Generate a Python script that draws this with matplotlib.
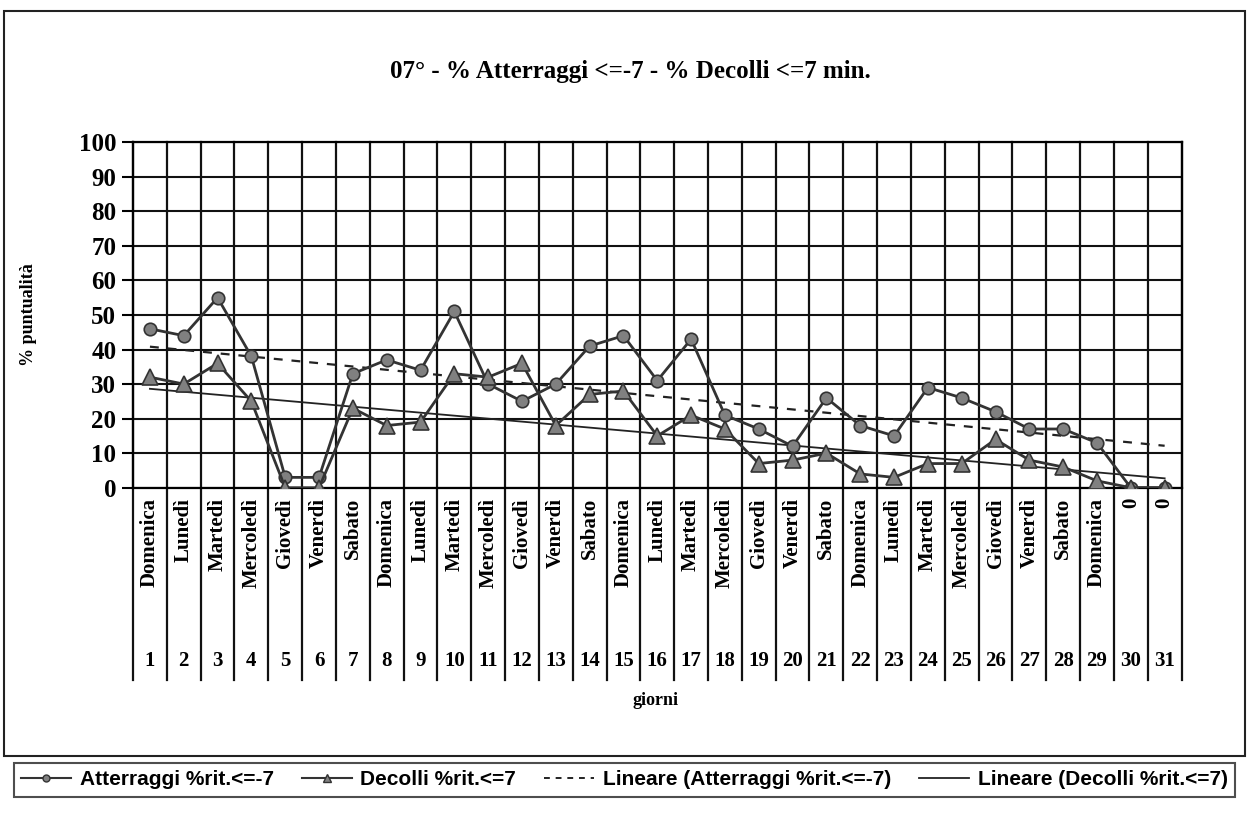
import numpy as np
import matplotlib
matplotlib.use("Agg")
import matplotlib.pyplot as plt
from matplotlib.patches import Rectangle
from matplotlib.lines import Line2D

# dati (giorni del mese)
giorni = list(range(1, 32))
nomi = ["Domenica", "Lunedì", "Martedì", "Mercoledì", "Giovedì", "Venerdì", "Sabato",
        "Domenica", "Lunedì", "Martedì", "Mercoledì", "Giovedì", "Venerdì", "Sabato",
        "Domenica", "Lunedì", "Martedì", "Mercoledì", "Giovedì", "Venerdì", "Sabato",
        "Domenica", "Lunedì", "Martedì", "Mercoledì", "Giovedì", "Venerdì", "Sabato",
        "Domenica", "0", "0"]
atterraggi = [46, 44, 55, 38, 3, 3, 33, 37, 34, 51, 30, 25, 30, 41, 44, 31,
              43, 21, 17, 12, 26, 18, 15, 29, 26, 22, 17, 17, 13, 0, 0]
decolli = [32, 30, 36, 25, 0, 0, 23, 18, 19, 33, 32, 36, 18, 27, 28, 15,
           21, 17, 7, 8, 10, 4, 3, 7, 7, 14, 8, 6, 2, 0, 0]
y_ticks = list(range(0, 101, 10))

plt.rcParams['font.family'] = ['Liberation Serif', 'DejaVu Serif']
plt.rcParams['font.weight'] = 'bold'

fig = plt.figure(figsize=(12.49, 8.17), dpi=100)
ax = fig.add_axes([0.1065, 0.403, 0.8395, 0.423])

x = np.array(giorni)
ax.plot(x, atterraggi, color='#333333', lw=2, marker='o', ms=9,
        mfc='#808080', mec='#333333', mew=1.2, zorder=4)
ax.plot(x, decolli, color='#333333', lw=2, marker='^', ms=11,
        mfc='#808080', mec='#333333', mew=1.2, zorder=4)

# linee di tendenza lineari
pa = np.polyfit(x, atterraggi, 1)
pd_ = np.polyfit(x, decolli, 1)
ax.plot(x, np.polyval(pa, x), color='#222222', lw=1.6, ls=(0, (4, 4)), zorder=3)
ax.plot(x, np.polyval(pd_, x), color='#222222', lw=1.3, zorder=3)

ax.set_xlim(0.5, 31.5)
ax.set_ylim(0, 100)
ax.set_yticks(y_ticks)
ax.set_yticklabels([str(v) for v in y_ticks], fontsize=18, fontweight='bold')
ax.tick_params(axis='y', direction='out', length=8, width=1.5, pad=4)
ax.set_xticks([])

for v in y_ticks:
    ax.axhline(v, color='#111111', lw=1.5, zorder=1)
for k in range(0, 32):
    ax.axvline(k + 0.5, ymin=-0.555, ymax=1, color='#111111', lw=1.6,
               clip_on=False, zorder=1)
for s in ax.spines.values():
    s.set_linewidth(1.6)

tr = ax.get_xaxis_transform()
for g, n in zip(giorni, nomi):
    ax.text(g, -0.03, n, rotation=90, ha='center', va='top', fontsize=15,
            fontweight='bold', transform=tr)
    ax.text(g, -0.50, str(g), ha='center', va='center', fontsize=15,
            fontweight='bold', transform=tr)

ax.set_ylabel('% puntualità', fontsize=13, fontweight='bold', labelpad=30)
fig.text(0.525, 0.143, 'giorni', ha='center', va='center', fontsize=13, fontweight='bold')
fig.text(0.505, 0.912, '07° - % Atterraggi <=-7 - % Decolli <=7 min.', ha='center',
         va='center', fontsize=18, fontweight='bold')

# cornice esterna
fig.patches.append(Rectangle((0.003, 0.075), 0.994, 0.912, transform=fig.transFigure,
                             fill=False, lw=1.5, ec='#222222'))

handles = [
    Line2D([], [], color='#333333', lw=1.5, marker='o', ms=5, mfc='#808080', mec='#333333'),
    Line2D([], [], color='#333333', lw=1.5, marker='^', ms=6, mfc='#808080', mec='#333333'),
    Line2D([], [], color='#222222', lw=1.4, ls=(0, (3, 3))),
    Line2D([], [], color='#222222', lw=1.3),
]
labels = ['Atterraggi %rit.<=-7', 'Decolli %rit.<=7',
          'Lineare (Atterraggi %rit.<=-7)', 'Lineare (Decolli %rit.<=7)']
leg = fig.legend(handles, labels, loc='lower left', bbox_to_anchor=(0.003, 0.012, 0.994, 0.05),
                 mode='expand', ncol=4, frameon=True, fancybox=False, edgecolor='#222222',
                 handlelength=2.4, handletextpad=0.4, columnspacing=0.8, borderpad=0.35,
                 prop={'family': ['Liberation Sans', 'DejaVu Sans'], 'size': 15})
leg.get_frame().set_linewidth(1.5)

fig.savefig('out.png', dpi=100)
